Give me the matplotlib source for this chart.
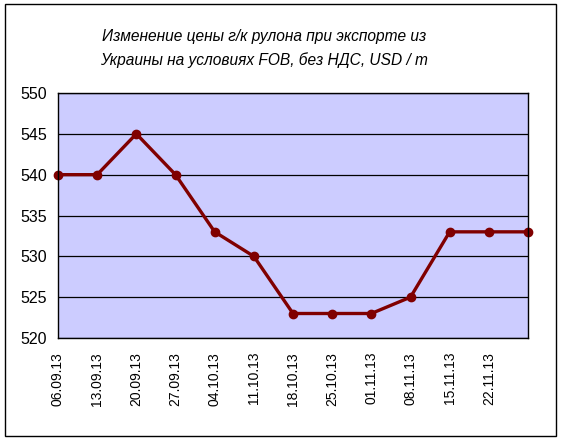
import matplotlib
matplotlib.use("Agg")
from matplotlib import pyplot as plt
from matplotlib.patches import Rectangle

plt.rcParams['font.family'] = ['Liberation Sans', 'DejaVu Sans']

dates = ["06.09.13", "13.09.13", "20.09.13", "27.09.13", "04.10.13", "11.10.13",
         "18.10.13", "25.10.13", "01.11.13", "08.11.13", "15.11.13", "22.11.13"]
prices = [540, 540, 545, 540, 533, 530, 523, 523, 523, 525, 533, 533, 533]
yticks = [520, 525, 530, 535, 540, 545, 550]

fig = plt.figure(figsize=(5.62, 4.40), dpi=100)
fig.patches.append(Rectangle((5 / 562, 4 / 440), 551 / 562, 432 / 440,
                             transform=fig.transFigure, fill=False,
                             edgecolor='black', linewidth=1))

ax = fig.add_axes([58 / 562, 1 - 338 / 440, 470 / 562, 245 / 440])
ax.set_facecolor('#ccccff')

x = list(range(len(prices)))
ax.plot(x, prices, color='#800000', linewidth=2.4, marker='o', markersize=6,
        clip_on=False, zorder=3)

ax.set_xlim(0, len(prices) - 1)
ax.set_ylim(520, 550)
ax.set_yticks(yticks)
ax.set_xticks(range(len(dates)))
ax.set_xticklabels(dates, rotation=90)
ax.tick_params(axis='x', length=0, labelsize=10, pad=10)
ax.tick_params(axis='y', length=0, labelsize=11.5, pad=8)
ax.grid(axis='y', color='black', linewidth=0.9)
ax.set_axisbelow(True)
for s in ax.spines.values():
    s.set_color('black')
    s.set_linewidth(1)
    s.set_zorder(4)

fig.text(264 / 562, 1 - 36 / 440, "Изменение цены г/к рулона при экспорте из",
         ha='center', va='center', fontsize=11.2, style='italic')
fig.text(264 / 562, 1 - 60 / 440, "Украины на условиях FOB, без НДС, USD / т",
         ha='center', va='center', fontsize=11.2, style='italic')

fig.savefig("out.png", dpi=100)
